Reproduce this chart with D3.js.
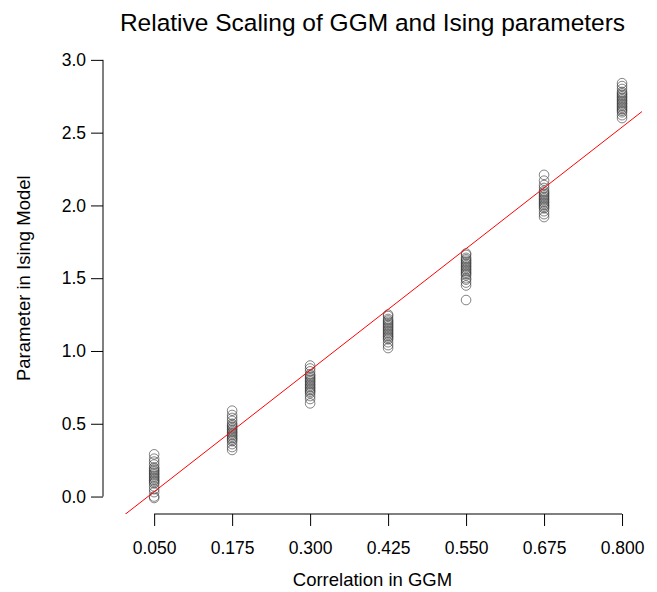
<!DOCTYPE html>
<html><head><meta charset="utf-8">
<script src="https://cdn.jsdelivr.net/npm/d3@7"></script>
<style>body{margin:0;background:#fff;} svg{display:block;font-family:"Liberation Sans",Arial,sans-serif;}</style>
</head><body>
<svg id="c" width="657" height="592"></svg>
<script>
const categories = [0.050, 0.175, 0.300, 0.425, 0.550, 0.675, 0.800];
const xTickLabels = ["0.050","0.175","0.300","0.425","0.550","0.675","0.800"];
const yTicks = [0.0, 0.5, 1.0, 1.5, 2.0, 2.5, 3.0];
const vals050 = [-0.01,0.00,0.03,0.05,0.07,0.09,0.10,0.11,0.12,0.13,0.14,0.15,0.16,0.17,0.18,0.19,0.20,0.22,0.24,0.26,0.29];
const vals175 = [0.32,0.34,0.36,0.38,0.39,0.40,0.41,0.42,0.43,0.44,0.45,0.46,0.47,0.48,0.49,0.50,0.52,0.54,0.56,0.59];
const vals300 = [0.64,0.67,0.69,0.71,0.72,0.73,0.74,0.75,0.76,0.77,0.78,0.79,0.80,0.81,0.82,0.83,0.84,0.86,0.88,0.90];
const vals425 = [1.02,1.04,1.06,1.08,1.09,1.10,1.11,1.12,1.13,1.14,1.15,1.16,1.17,1.18,1.19,1.20,1.21,1.22,1.24,1.25];
const vals550 = [1.35,1.45,1.47,1.49,1.50,1.52,1.53,1.54,1.55,1.56,1.57,1.58,1.59,1.60,1.61,1.62,1.63,1.64,1.66,1.67];
const vals675 = [1.92,1.94,1.96,1.98,1.99,2.00,2.01,2.02,2.03,2.04,2.05,2.06,2.07,2.08,2.09,2.10,2.12,2.14,2.17,2.21];
const vals800 = [2.60,2.62,2.64,2.65,2.66,2.67,2.68,2.69,2.70,2.71,2.72,2.73,2.74,2.75,2.76,2.77,2.78,2.80,2.82,2.84];
const seriesValues = [vals050, vals175, vals300, vals425, vals550, vals675, vals800];
const fitIntercept = -0.134, fitSlope = 3.34;
const title = "Relative Scaling of GGM and Ising parameters";
const xTitle = "Correlation in GGM";
const yTitle = "Parameter in Ising Model";

const svg = d3.select("#c");
const L = 103, R = 642, T = 42.4, B = 514;
const x = d3.scaleLinear().domain([-0.032, 0.832]).range([L, R]);
const y = d3.scaleLinear().domain([-0.12, 3.12]).range([B, T]);

svg.append("defs").append("clipPath").attr("id","clip")
  .append("rect").attr("x",L).attr("y",T).attr("width",R-L).attr("height",B-T);

// points
const pts = [];
categories.forEach((c,i)=>seriesValues[i].forEach(v=>pts.push({c,v})));
svg.append("g").selectAll("circle").data(pts).join("circle")
  .attr("cx",d=>x(d.c)).attr("cy",d=>y(d.v)).attr("r",4.8)
  .attr("fill","none").attr("stroke","#333").attr("stroke-opacity",0.6).attr("stroke-width",1);

// fit line
svg.append("line").attr("clip-path","url(#clip)")
  .attr("x1",x(-0.032)).attr("y1",y(fitIntercept+fitSlope*-0.032))
  .attr("x2",x(0.832)).attr("y2",y(fitIntercept+fitSlope*0.832))
  .attr("stroke","#ff0000").attr("stroke-width",1);

// x axis
const xa = svg.append("g").attr("transform",`translate(0,${B})`)
  .call(d3.axisBottom(x).tickValues(categories).tickFormat((d,i)=>xTickLabels[i]).tickSize(12).tickPadding(16).tickSizeOuter(0));
xa.select(".domain").attr("d",`M${x(categories[0])},0H${x(categories[categories.length-1])}`);
xa.selectAll("text").attr("font-size",17.5).attr("fill","#000").attr("font-family","Liberation Sans, Arial, sans-serif");
xa.selectAll("line,path").attr("stroke","#000");

// y axis
const ya = svg.append("g").attr("transform",`translate(${L},0)`)
  .call(d3.axisLeft(y).tickValues(yTicks).tickFormat(d3.format(".1f")).tickSize(12).tickPadding(5).tickSizeOuter(0));
ya.select(".domain").attr("d",`M0,${y(0)}V${y(3)}`);
ya.selectAll("text").attr("font-size",17.5).attr("fill","#000").attr("font-family","Liberation Sans, Arial, sans-serif");
ya.selectAll("line,path").attr("stroke","#000");

svg.append("text").attr("x",(L+R)/2).attr("y",31).attr("text-anchor","middle")
  .attr("font-size",24.5).text(title);
svg.append("text").attr("x",(L+R)/2).attr("y",586).attr("text-anchor","middle")
  .attr("font-size",18.5).text(xTitle);
svg.append("text").attr("transform",`translate(30,${(T+B)/2}) rotate(-90)`).attr("text-anchor","middle")
  .attr("font-size",18.5).text(yTitle);
</script>
</body></html>
